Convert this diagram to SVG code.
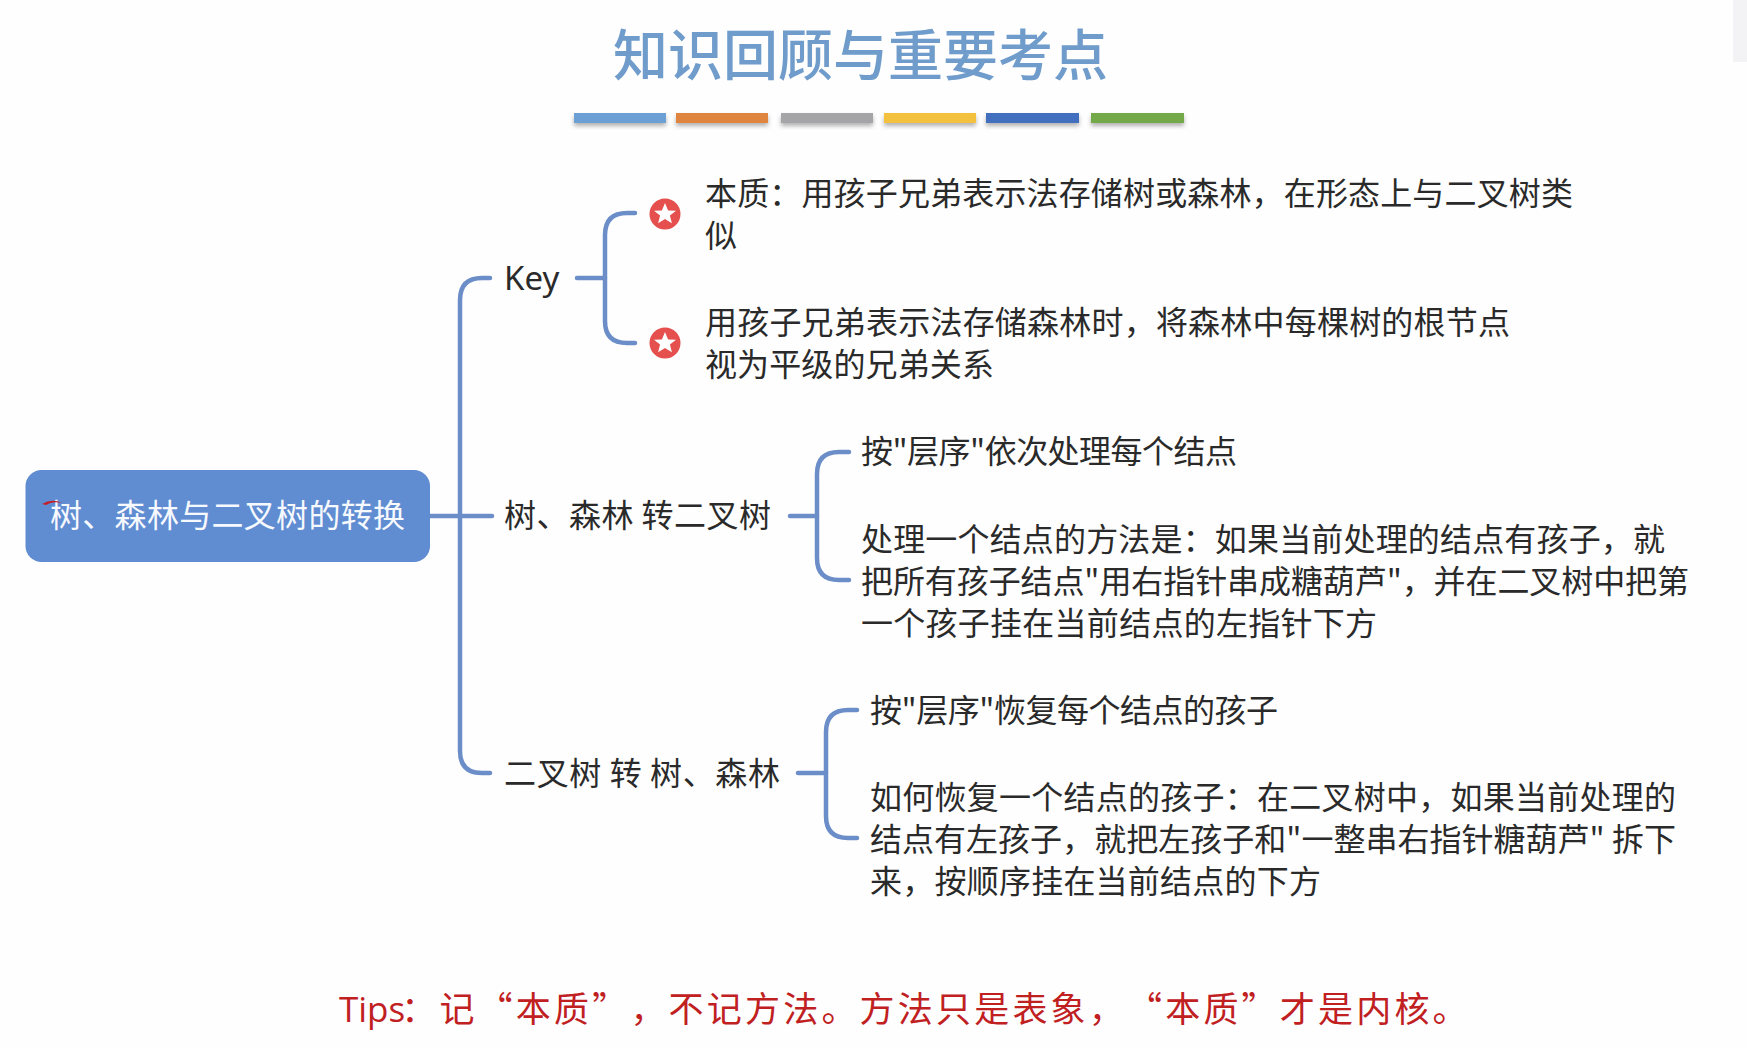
<svg xmlns="http://www.w3.org/2000/svg" width="1747" height="1048" viewBox="0 0 1747 1048">
<style>
text{font-family:"Noto Sans CJK SC","Noto Sans",sans-serif;text-spacing-trim:space-all;}
.t{font-size:32px;fill:#2a2a2a;}
.conn{fill:none;stroke:#6c8ec8;stroke-width:4.5;stroke-linecap:round;}
.star{fill:#fff;}
.badge{fill:#e5504f;}
</style>
<defs>
<filter id="sh" x="-10%" y="-50%" width="120%" height="220%"><feDropShadow dx="0" dy="3" stdDeviation="2" flood-color="#555" flood-opacity="0.45"/></filter>
<polygon id="st" points="0,-11 3.100,-3.600 11,-3.300 4.900,1.600 6.900,9.200 0,5 -6.900,9.200 -4.900,1.600 -11,-3.300 -3.100,-3.600"/>
</defs>
<rect width="1747" height="1048" fill="#fefefe"/>
<rect x="1733" y="0" width="14" height="62" fill="#f3f3f6"/>
<g id="title">
<text x="613" y="75" font-size="55" font-weight="500" fill="#6f9ccb">知识回顾与重要考点</text>
<g filter="url(#sh)">
<rect x="574" y="113" width="92" height="10" fill="#6c9fd4"/>
<rect x="676" y="113" width="92" height="10" fill="#e08540"/>
<rect x="781" y="113" width="92" height="10" fill="#a5a4a6"/>
<rect x="884" y="113" width="92" height="10" fill="#f3c13e"/>
<rect x="986" y="113" width="93" height="10" fill="#4270be"/>
<rect x="1091" y="113" width="93" height="10" fill="#73a94a"/>
</g>
</g>
<g id="connectors">
<path class="conn" d="M430 516H492"/>
<path class="conn" d="M490 278H482Q460 278 460 300V751Q460 773 482 773H490"/>
<path class="conn" d="M577 278H605"/>
<path class="conn" d="M635 213H627Q605 213 605 235V321Q605 343 627 343H635"/>
<path class="conn" d="M790 516H817"/>
<path class="conn" d="M849 452H839Q817 452 817 474V558Q817 580 839 580H849"/>
<path class="conn" d="M798 773H826"/>
<path class="conn" d="M857 710H848Q826 710 826 732V816Q826 838 848 838H857"/>
</g>
<g id="root">
<rect x="25.500" y="470" width="404.500" height="92" rx="16" fill="#608cd2"/>
<text x="50" y="527" font-size="32" fill="#f6f9fd" textLength="355">树、森林与二叉树的转换</text>
<path d="M42 504Q52 498 62 503Q52 501 46 505Z" fill="#c2202a"/>
</g>
<g id="key">
<text x="504" y="290" font-size="33" fill="#2a2a2a" style="font-family:'Noto Sans',sans-serif">Key</text>
</g>
<g id="key-1">
<circle class="badge" cx="665" cy="214" r="15.500"/>
<use href="#st" class="star" x="665" y="214"/>
<text class="t" x="705" y="205" textLength="868">本质：用孩子兄弟表示法存储树或森林，在形态上与二叉树类</text>
<text class="t" x="705" y="247">似</text>
</g>
<g id="key-2">
<circle class="badge" cx="665" cy="343" r="15.500"/>
<use href="#st" class="star" x="665" y="343"/>
<text class="t" x="705" y="334" textLength="805">用孩子兄弟表示法存储森林时，将森林中每棵树的根节点</text>
<text class="t" x="705" y="376" textLength="289">视为平级的兄弟关系</text>
</g>
<g id="tree-to-binary">
<text class="t" x="504" y="527" textLength="267" xml:space="preserve">树、森林 转二叉树</text>
</g>
<g id="t2b-1">
<text class="t" x="861" y="463" textLength="376">按"层序"依次处理每个结点</text>
</g>
<g id="t2b-2">
<text class="t" x="861" y="550.500" textLength="804">处理一个结点的方法是：如果当前处理的结点有孩子，就</text>
<text class="t" x="861" y="592.500" textLength="828">把所有孩子结点"用右指针串成糖葫芦"，并在二叉树中把第</text>
<text class="t" x="861" y="634.500" textLength="516">一个孩子挂在当前结点的左指针下方</text>
</g>
<g id="binary-to-tree">
<text class="t" x="504" y="785" textLength="276" xml:space="preserve">二叉树 转 树、森林</text>
</g>
<g id="b2t-1">
<text class="t" x="870" y="722" textLength="408">按"层序"恢复每个结点的孩子</text>
</g>
<g id="b2t-2">
<text class="t" x="870" y="808.500" textLength="806">如何恢复一个结点的孩子：在二叉树中，如果当前处理的</text>
<text class="t" x="870" y="850.500" textLength="806">结点有左孩子，就把左孩子和"一整串右指针糖葫芦" 拆下</text>
<text class="t" x="870" y="892.500" textLength="451">来，按顺序挂在当前结点的下方</text>
</g>
<g id="tips">
<text x="339" y="1022" font-size="35" letter-spacing="3.200" fill="#c0201f"><tspan style="font-family:'Open Sans',sans-serif" letter-spacing="0">Tips</tspan><tspan dx="-4">：</tspan>记“本质”，不记方法。方法只是表象，“本质”才是内核。</text>
</g>
</svg>
